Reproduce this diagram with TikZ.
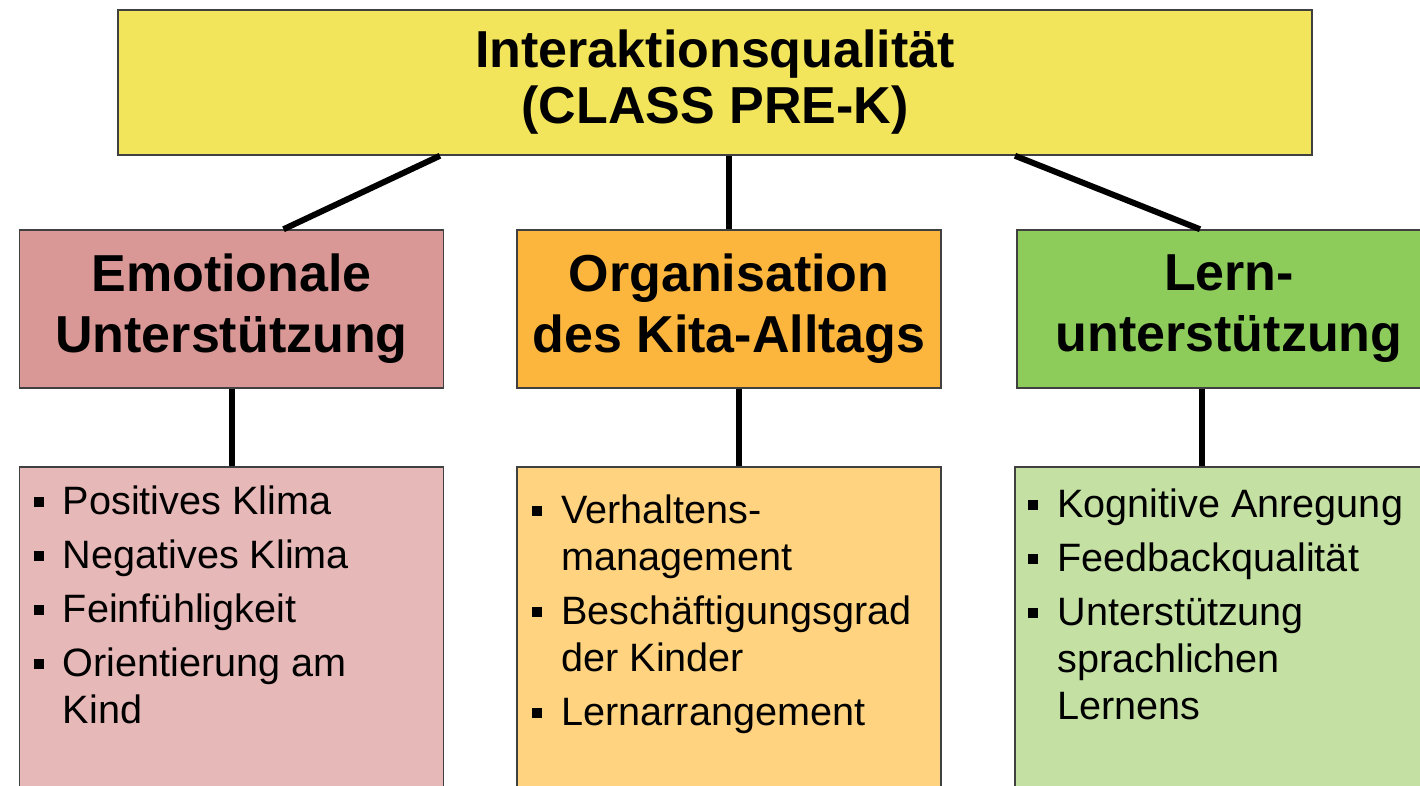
\documentclass[tikz,border=0pt]{standalone}
\usepackage{fontspec}
\setmainfont{Liberation Sans}
\usepackage{tikz}

\definecolor{gelb}{HTML}{F3E55B}
\definecolor{rot}{HTML}{D99795}
\definecolor{orange}{HTML}{FCB63E}
\definecolor{gruen}{HTML}{8DCB5B}
\definecolor{rothell}{HTML}{E6B8B7}
\definecolor{orangehell}{HTML}{FFD37F}
\definecolor{gruenhell}{HTML}{C4E0A3}

% square bullet for the lists
\newcommand{\bsq}{\rule[7pt]{10pt}{10pt}}

\begin{document}
\begin{tikzpicture}[x=1pt, y=-1pt,
    box/.style={draw=black!75, line width=1.5pt, inner sep=0pt, minimum width=424pt},
    head/.style={box, minimum height=158pt, align=center,
        font=\fontsize{52}{61}\selectfont\bfseries},
    list/.style={box, minimum height=340pt},
    items/.style={inner sep=0pt, anchor=base west,
        font=\fontsize{39.6}{47}\selectfont},
    link/.style={line width=6pt}]

    \clip (0,0) rectangle (1420,785);

    % top level
    \node[box, fill=gelb, minimum width=1194pt, minimum height=145pt, align=center,
        font=\fontsize{52}{56}\selectfont\bfseries] (top) at (715,82.5)
        {Interaktionsqualität\\(CLASS PRE-K)};

    % domains
    \node[head, fill=rot]    (emo)  at (231.5,309) {Emotionale\\Unterstützung};
    \node[head, fill=orange] (org)  at (729,309)   {Organisation\\des Kita-Alltags};
    \node[head, fill=gruen]  (lern) at (1229,309)  {Lern-\\unterstützung};

    % dimensions
    \node[list, fill=rothell]    (emolist)  at (231.5,637) {};
    \node[list, fill=orangehell] (orglist)  at (729,637)   {};
    \node[list, fill=gruenhell]  (lernlist) at (1227,637)  {};

    \node[items] (emoitems) at ([xshift=15pt,yshift=-48pt]emolist.north west)
        {\begin{tabular}[t]{@{}l@{\hspace{19pt}}l@{}}
        \bsq & Positives Klima\\[7pt]
        \bsq & Negatives Klima\\[7pt]
        \bsq & Feinfühligkeit\\[7pt]
        \bsq & Orientierung am\\
             & Kind
        \end{tabular}};
    \node[items] (orgitems) at ([xshift=16pt,yshift=-57pt]orglist.north west)
        {\begin{tabular}[t]{@{}l@{\hspace{19pt}}l@{}}
        \bsq & Verhaltens-\\
             & management\\[7pt]
        \bsq & Beschäftigungsgrad\\
             & der Kinder\\[7pt]
        \bsq & Lernarrangement
        \end{tabular}};
    \node[items] (lernitems) at ([xshift=14pt,yshift=-51pt]lernlist.north west)
        {\begin{tabular}[t]{@{}l@{\hspace{19pt}}l@{}}
        \bsq & Kognitive Anregung\\[7pt]
        \bsq & Feedbackqualität\\[7pt]
        \bsq & Unterstützung\\
             & sprachlichen\\
             & Lernens
        \end{tabular}};

    % connectors
    \draw[link] ([xshift=-275pt]top.south) -- ([xshift=52pt]emo.north);
    \draw[link] (top.south -| org.north) -- (org.north);
    \draw[link] ([xshift=300pt]top.south) -- ([xshift=-29pt]lern.north);

    \draw[link] (emo.south) -- (emolist.north);
    \draw[link] ([xshift=10pt]org.south) -- ([xshift=10pt]orglist.north);
    \draw[link] ([xshift=-27pt]lern.south) -- ([xshift=-25pt]lernlist.north);

\end{tikzpicture}
\end{document}
